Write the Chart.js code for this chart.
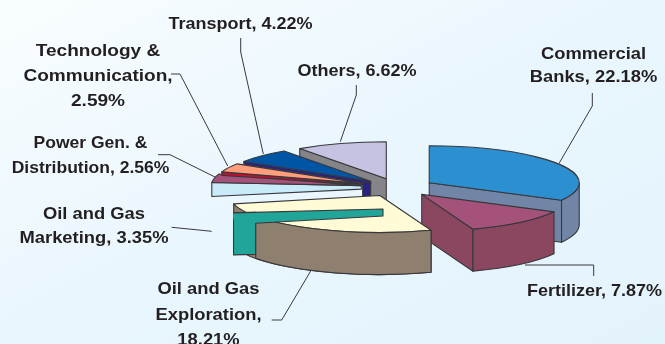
<!DOCTYPE html>
<html>
<head>
<meta charset="utf-8">
<title>Sector shares</title>
<script src="https://cdn.jsdelivr.net/npm/chart.js@4"></script>
<style>
  html, body { margin:0; padding:0; width:665px; height:344px; overflow:hidden; }
  body { background:linear-gradient(to bottom right, #f9fdff 0%, #e9f6fd 50%, #e3f3fc 100%); }
  #wrap { position:relative; width:665px; height:344px; }
</style>
</head>
<body>
<div id="wrap"><canvas id="pie" width="665" height="344"></canvas></div>
<script>
// ── DATA ──────────────────────────────────────────────────────────────────────
const categories = ['Commercial Banks', 'Fertilizer', 'Oil and Gas Exploration', 'Oil and Gas Marketing',
                    'Power Gen. & Distribution', 'Technology & Communication', 'Transport', 'Others'];
const shares = [22.18, 7.87, 18.21, 3.35, 2.56, 2.59, 4.22, 6.62];

// ── STYLE ─────────────────────────────────────────────────────────────────────
const topColors  = ['#2b8fd0', '#a5527a', '#fffbd6', '#20a598', '#a5527a', '#ff9e7a', '#0055a5', '#c6c2e2'];
const wallColors = ['#7185a6', '#8b475f', '#8f7f6e', '#20a598', '#c9eaf9', '#c8102e', '#2b2383', '#858589'];
const explode = [37, 37, 37, 37, 37, 37, 37, 37];

const EDGE = '#38383c';
const RADIUS = 150;
const SQUASH = 37 / 150;   // vertical flattening of the pie
const DEPTH = 42;
const deg = d => d * Math.PI / 180;

// the marketing sliver sits apart from the others, below the exploration slice
const MARKETING_SHIFT = { x: 22.4, y: 27.9 };
const MARKETING_BLUNT = 7;
const FRONT_CUT = deg(145.8);

// ── CALLOUTS ──────────────────────────────────────────────────────────────────
const pct = i => shares[i].toFixed(2) + '%';
const callouts = [
  { x:593.5, stretch:1.08, lines:[[59,'Commercial'], [82,'Banks, ' + pct(0)]],
    leader:[[592.3,93],[592.3,106],[559,163.5]] },
  { x:594.5, stretch:1.06, lines:[[296,'Fertilizer, ' + pct(1)]],
    leader:[[525,265],[593.7,265],[593.7,276]] },
  { x:208.5, stretch:1.08, lines:[[294,'Oil and Gas'], [319.5,'Exploration,'], [345,pct(2)]],
    leader:[[271.7,320],[281.7,320],[310.7,271]] },
  { x:94, stretch:1.08, lines:[[219,'Oil and Gas'], [243,'Marketing, ' + pct(3)]],
    leader:[[171.7,227.3],[211.7,231.3]] },
  { x:90.5, stretch:1.03, lines:[[148,'Power Gen. &'], [173,'Distribution, ' + pct(4)]],
    leader:[[158,154.7],[170,154.7],[215,177]] },
  { x:98, stretch:1.12, lines:[[56,'Technology &'], [81,'Communication,'], [106,pct(5)]],
    leader:[[171,74],[180,74],[227.7,166]] },
  { x:240.5, stretch:1.06, lines:[[29,'Transport, ' + pct(6)]],
    leader:[[240.7,38],[240.7,52],[263.3,154]] },
  { x:357, stretch:1.06, lines:[[76,'Others, ' + pct(7)]],
    leader:[[356.3,85],[356.3,95],[340.3,141.7]] }
];

// ── PIE GEOMETRY ──────────────────────────────────────────────────────────────
function sliceGeom(arc, i) {
  const mid = (arc.startAngle + arc.endAngle) / 2;
  const off = arc.options.offset;
  let x = arc.x + Math.cos(mid) * off;
  let y = arc.y + Math.sin(mid) * off * SQUASH;
  if (i === 3) { x += MARKETING_SHIFT.x; y += MARKETING_SHIFT.y; }
  return {
    x, y, a0: arc.startAngle, a1: arc.endAngle,
    at: a => [x + RADIUS * Math.cos(a), y + RADIUS * Math.sin(a) * SQUASH]
  };
}

function paint(ctx, fill, stroke) {
  ctx.fillStyle = fill;
  ctx.fill();
  if (stroke) { ctx.strokeStyle = EDGE; ctx.lineWidth = 1.1; ctx.stroke(); }
}

function drawTop(ctx, g, color) {
  ctx.beginPath();
  ctx.moveTo(g.x, g.y);
  ctx.ellipse(g.x, g.y, RADIUS, RADIUS * SQUASH, 0, g.a0, g.a1);
  ctx.closePath();
  paint(ctx, color, true);
}

function drawRim(ctx, g, from, to, color) {
  ctx.beginPath();
  ctx.ellipse(g.x, g.y, RADIUS, RADIUS * SQUASH, 0, from, to);
  ctx.ellipse(g.x, g.y + DEPTH, RADIUS, RADIUS * SQUASH, 0, to, from, true);
  ctx.closePath();
  paint(ctx, color, true);
}

// flat cut face between the apex and the rim, depth may taper along it
function drawCut(ctx, g, a, color, rimDepth = DEPTH, apexDepth = DEPTH) {
  const [px, py] = g.at(a);
  ctx.beginPath();
  ctx.moveTo(g.x, g.y);
  ctx.lineTo(px, py);
  ctx.lineTo(px, py + rimDepth);
  ctx.lineTo(g.x, g.y + apexDepth);
  ctx.closePath();
  paint(ctx, color, true);
}

// only the stretch of the far cut face left of the exploration wall shows
function drawMarketing(ctx, g, color, stopX) {
  const far = g.at(g.a1);
  const topY = g.y - MARKETING_BLUNT;
  const t = (stopX - far[0]) / (g.x - far[0]);
  const stopY = far[1] + (topY - far[1]) * t;
  ctx.beginPath();
  ctx.moveTo(far[0], far[1]);
  ctx.lineTo(stopX, stopY);
  ctx.lineTo(stopX, stopY + DEPTH);
  ctx.lineTo(far[0], far[1] + DEPTH);
  ctx.closePath();
  paint(ctx, color, true);
}

function drawMarketingTop(ctx, g, color, stopX) {
  const near = g.at(g.a0), far = g.at(g.a1);
  ctx.beginPath();
  ctx.moveTo(g.x, g.y);
  ctx.lineTo(near[0], near[1]);
  ctx.ellipse(g.x, g.y, RADIUS, RADIUS * SQUASH, 0, g.a0, g.a1);
  ctx.lineTo(g.x, g.y - MARKETING_BLUNT);
  ctx.closePath();
  paint(ctx, color, false);

  // edges without the part that runs over its own cut face
  const cut = (g.x - stopX) / (g.x - near[0]);
  ctx.beginPath();
  ctx.moveTo(far[0], far[1]);
  ctx.lineTo(g.x, g.y - MARKETING_BLUNT);
  ctx.lineTo(g.x, g.y);
  ctx.lineTo(g.x + (near[0] - g.x) * cut, g.y + (near[1] - g.y) * cut);
  ctx.strokeStyle = EDGE; ctx.lineWidth = 1.1; ctx.stroke();
}

// ── 3D PIE PLUGIN ─────────────────────────────────────────────────────────────
const pie3d = {
  id: 'pie3d',
  beforeDatasetsDraw(chart) {
    const ctx = chart.ctx;
    const g = chart.getDatasetMeta(0).data.map(sliceGeom);
    ctx.save();
    ctx.lineJoin = 'round';

    // banks, fertilizer
    drawCut(ctx, g[0], g[0].a1, wallColors[0]);
    drawRim(ctx, g[0], 0, g[0].a1, wallColors[0]);
    drawTop(ctx, g[0], topColors[0]);
    drawCut(ctx, g[1], g[1].a1, wallColors[1]);
    drawRim(ctx, g[1], g[1].a0, g[1].a1, wallColors[1]);
    drawTop(ctx, g[1], topColors[1]);

    // others: its cut face only shows above the thin slices and right of the block
    ctx.save();
    ctx.beginPath();
    ctx.rect(0, 0, g[6].x, g[6].y + 4);
    ctx.rect(g[6].x, 0, 40, 344);
    ctx.clip();
    drawCut(ctx, g[7], g[7].a0, wallColors[7]);
    ctx.restore();
    drawTop(ctx, g[7], topColors[7]);

    // thin back slices
    drawCut(ctx, g[6], g[6].a0, wallColors[6], 3, 3);
    drawTop(ctx, g[6], topColors[6]);
    drawCut(ctx, g[4], g[4].a0, wallColors[4], 14, 3.5);
    drawTop(ctx, g[4], topColors[4]);
    drawCut(ctx, g[5], g[5].a0, wallColors[5], 3.5, 1);
    drawTop(ctx, g[5], topColors[5]);

    // apex block of the transport slice, in front of the thin slices
    ctx.beginPath();
    ctx.rect(g[6].x - 8, g[6].y + 1, 8, 14);
    paint(ctx, wallColors[6], true);

    // exploration, with the marketing sliver laid through it
    const stopX = g[2].at(FRONT_CUT)[0];
    drawRim(ctx, g[2], g[2].a0, g[2].a1, wallColors[2]);
    drawTop(ctx, g[2], topColors[2]);
    drawMarketing(ctx, g[3], wallColors[3], stopX);
    drawRim(ctx, g[2], g[2].a0, FRONT_CUT, wallColors[2]);
    drawMarketingTop(ctx, g[3], topColors[3], stopX);

    ctx.restore();
    return false;
  },
  afterDraw(chart) {
    const ctx = chart.ctx;
    ctx.save();
    ctx.strokeStyle = EDGE;
    ctx.lineWidth = 1;
    callouts.forEach(c => {
      ctx.beginPath();
      c.leader.forEach(([x, y], i) => i ? ctx.lineTo(x, y) : ctx.moveTo(x, y));
      ctx.stroke();
    });
    ctx.fillStyle = '#231f20';
    ctx.font = 'bold 17px "Liberation Sans", Arial, sans-serif';
    ctx.textAlign = 'center';
    ctx.textBaseline = 'alphabetic';
    callouts.forEach(c => c.lines.forEach(([y, txt]) => {
      ctx.save();
      ctx.translate(c.x, y);
      ctx.scale(c.stretch, 1);
      ctx.fillText(txt, 0, 0);
      ctx.restore();
    }));
    ctx.restore();
  }
};

// ── CHART ─────────────────────────────────────────────────────────────────────
new Chart(document.getElementById('pie'), {
  type: 'pie',
  plugins: [pie3d],
  data: {
    labels: categories,
    datasets: [{ data: shares, backgroundColor: topColors, offset: explode, radius: RADIUS, borderWidth: 0 }]
  },
  options: {
    responsive: false,
    animation: false,
    layout: { padding: { left: 130, top: 31 } },
    plugins: { legend: { display: false }, tooltip: { enabled: false } }
  }
});
</script>
</body>
</html>
